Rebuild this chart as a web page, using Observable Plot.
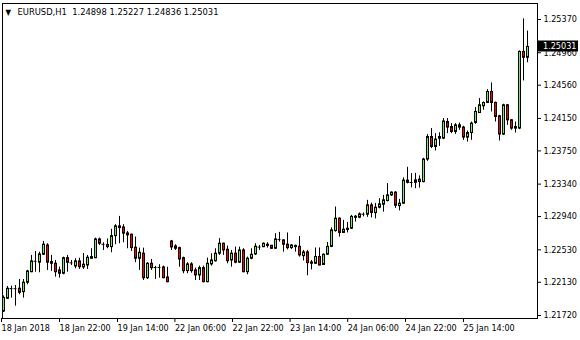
<!DOCTYPE html>
<html><head><meta charset="utf-8">
<script src="https://cdn.jsdelivr.net/npm/d3@7"></script>
<script src="https://cdn.jsdelivr.net/npm/@observablehq/plot@0.6"></script>
<style>
body{margin:0;background:#fff}
#chart svg{display:block;font-family:"DejaVu Sans Condensed","DejaVu Sans",sans-serif;font-stretch:condensed}
</style></head><body><div id="chart"></div>
<script>
const header = "EURUSD,H1  1.24898 1.25227 1.24836 1.25031";
const opens = [1.21769,1.21926,1.22050,1.22052,1.22050,1.22008,1.22124,1.22254,1.22387,1.22371,
1.22469,1.22584,1.22378,1.22358,1.22276,1.22235,1.22427,1.22371,1.22325,1.22387,
1.22313,1.22337,1.22420,1.22427,1.22658,1.22596,1.22590,1.22563,1.22699,1.22819,
1.22806,1.22732,1.22716,1.22556,1.22420,1.22482,1.22180,1.22358,1.22313,1.22311,
1.22313,1.22189,1.22633,1.22572,1.22551,1.22427,1.22267,1.22350,1.22276,1.22214,
1.22304,1.22131,1.22350,1.22390,1.22482,1.22605,1.22531,1.22399,1.22482,1.22371,
1.22522,1.22254,1.22420,1.22473,1.22565,1.22563,1.22578,1.22580,1.22543,1.22654,
1.22646,1.22593,1.22551,1.22578,1.22568,1.22452,1.22498,1.22374,1.22358,1.22442,
1.22343,1.22469,1.22566,1.22761,1.22914,1.22738,1.22775,1.22790,1.22924,1.22926,
1.22967,1.22963,1.23078,1.22983,1.23049,1.23086,1.23131,1.23201,1.23235,1.23069,
1.23099,1.23383,1.23362,1.23356,1.23395,1.23365,1.23643,1.23921,1.23798,1.23899,
1.23901,1.24106,1.24044,1.23983,1.24065,1.24037,1.23914,1.23970,1.24094,1.24217,
1.24300,1.24341,1.24476,1.24341,1.24177,1.23951,1.24312,1.24127,1.24044,1.24025,
1.24970,1.24898];
const highs = [1.21961,1.22078,1.22082,1.22090,1.22164,1.22164,1.22276,1.22461,1.22510,1.22501,
1.22633,1.22605,1.22461,1.22399,1.22316,1.22440,1.22461,1.22399,1.22420,1.22427,
1.22485,1.22461,1.22543,1.22674,1.22674,1.22617,1.22664,1.22782,1.22840,1.22942,
1.22840,1.22757,1.22724,1.22687,1.22551,1.22551,1.22371,1.22411,1.22325,1.22346,
1.22329,1.22316,1.22646,1.22593,1.22563,1.22440,1.22371,1.22371,1.22304,1.22329,
1.22329,1.22427,1.22482,1.22543,1.22667,1.22613,1.22575,1.22522,1.22563,1.22563,
1.22543,1.22440,1.22543,1.22605,1.22584,1.22613,1.22617,1.22584,1.22729,1.22745,
1.22654,1.22738,1.22593,1.22588,1.22695,1.22522,1.22522,1.22399,1.22553,1.22553,
1.22479,1.22621,1.22800,1.23057,1.22924,1.22893,1.22868,1.22954,1.22954,1.22985,
1.22985,1.23140,1.23106,1.23102,1.23160,1.23201,1.23346,1.23245,1.23247,1.23152,
1.23417,1.23547,1.23469,1.23473,1.23442,1.23658,1.23951,1.24025,1.23963,1.23973,
1.24148,1.24148,1.24086,1.24086,1.24094,1.24053,1.23995,1.24106,1.24284,1.24395,
1.24353,1.24506,1.24588,1.24353,1.24189,1.24325,1.24321,1.24136,1.24106,1.24983,
1.25378,1.25227];
const lows = [1.21757,1.21918,1.21934,1.21835,1.21976,1.21934,1.22099,1.22247,1.22254,1.22247,
1.22461,1.22276,1.22263,1.22193,1.22180,1.22222,1.22254,1.22337,1.22296,1.22288,
1.22288,1.22288,1.22411,1.22420,1.22584,1.22522,1.22543,1.22494,1.22593,1.22605,
1.22617,1.22543,1.22510,1.22371,1.22276,1.22152,1.22164,1.22276,1.22164,1.22180,
1.22173,1.22124,1.22522,1.22522,1.22316,1.22235,1.22235,1.22242,1.22152,1.22152,
1.22124,1.22124,1.22329,1.22378,1.22461,1.22461,1.22358,1.22316,1.22358,1.22366,
1.22247,1.22222,1.22408,1.22461,1.22522,1.22556,1.22551,1.22535,1.22535,1.22625,
1.22501,1.22529,1.22535,1.22501,1.22440,1.22393,1.22210,1.22282,1.22350,1.22331,
1.22337,1.22467,1.22556,1.22748,1.22687,1.22732,1.22738,1.22782,1.22872,1.22914,
1.22936,1.22930,1.22924,1.22911,1.23035,1.22995,1.23121,1.23189,1.23041,1.23010,
1.23090,1.23343,1.23294,1.23284,1.23291,1.23356,1.23621,1.23778,1.23748,1.23806,
1.23889,1.23963,1.23963,1.23954,1.24004,1.23880,1.23859,1.23880,1.24078,1.24210,
1.24251,1.24333,1.24230,1.24106,1.23872,1.23942,1.24065,1.24004,1.23970,1.24012,
1.24612,1.24836];
const closes = [1.21936,1.22050,1.22052,1.22050,1.22000,1.22124,1.22263,1.22387,1.22389,1.22473,
1.22593,1.22371,1.22358,1.22254,1.22235,1.22427,1.22371,1.22369,1.22387,1.22316,
1.22346,1.22432,1.22440,1.22658,1.22605,1.22598,1.22563,1.22699,1.22819,1.22798,
1.22729,1.22708,1.22551,1.22420,1.22494,1.22180,1.22358,1.22304,1.22311,1.22313,
1.22180,1.22131,1.22559,1.22543,1.22411,1.22267,1.22350,1.22267,1.22214,1.22304,
1.22131,1.22358,1.22399,1.22482,1.22605,1.22522,1.22390,1.22482,1.22371,1.22522,
1.22254,1.22420,1.22469,1.22568,1.22563,1.22605,1.22593,1.22543,1.22658,1.22656,
1.22593,1.22551,1.22584,1.22563,1.22461,1.22498,1.22366,1.22358,1.22442,1.22337,
1.22469,1.22566,1.22769,1.22914,1.22738,1.22778,1.22790,1.22936,1.22938,1.22967,
1.22969,1.23078,1.22985,1.23049,1.23090,1.23140,1.23201,1.23235,1.23074,1.23099,
1.23383,1.23356,1.23360,1.23386,1.23365,1.23643,1.23921,1.23798,1.23889,1.23921,
1.24112,1.24037,1.23983,1.24065,1.24037,1.23914,1.23970,1.24086,1.24230,1.24312,
1.24341,1.24476,1.24341,1.24168,1.23951,1.24312,1.24127,1.24025,1.24025,1.24970,
1.24898,1.25031];
// time axis labels, placed at bar-index positions
const timeTickAt = [-0.25, 14.25, 28.75, 43.1, 57.5, 71.9, 86.3, 100.75, 115.25];
const timeTickLabels = ["18 Jan 2018","18 Jan 22:00","19 Jan 14:00","22 Jan 06:00","22 Jan 22:00","23 Jan 14:00","24 Jan 06:00","24 Jan 22:00","25 Jan 14:00"];
const priceTicks = [1.25370,1.24960,1.24560,1.24150,1.23750,1.23340,1.22940,1.22530,1.22130,1.21720];

const bullColor = "#7cfc00", bearColor = "#ff0000";
const bars = opens.map((o, i) => ({i, o, h: highs[i], l: lows[i], c: closes[i]}));
const dojis = bars.filter(d => Math.abs(d.o - d.c) < 0.00004);
const bodies = bars.filter(d => Math.abs(d.o - d.c) >= 0.00004);
const last = bars[bars.length - 1];
const W = 580, H = 340, mL = 2, mR = 43, mT = 3, mB = 22;
const font = {fontFamily: "'DejaVu Sans Condensed','DejaVu Sans',sans-serif", fontSize: "9px"};

const plot = Plot.plot({
  width: W, height: H, marginLeft: mL, marginRight: mR, marginTop: mT, marginBottom: mB,
  style: {...font, color: "black", background: "white"},
  x: {type: "linear", domain: [-0.25, bars.length + 1.5]},
  y: {type: "linear", domain: [1.216830, 1.255673]},
  marks: [
    Plot.axisY({anchor: "right", ticks: priceTicks, tickFormat: d => d.toFixed(5), tickSize: 3, tickPadding: 3, label: null}),
    Plot.axisX({anchor: "bottom", ticks: timeTickAt, tickFormat: (d, k) => timeTickLabels[k], tickSize: 4, tickPadding: 2, textAnchor: "start", dx: -1, label: null}),
    Plot.ruleX(bars, {x: "i", y1: "l", y2: "h", stroke: "black", strokeWidth: 1}),
    Plot.rect(bodies, {x1: d => d.i - 0.25, x2: d => d.i + 0.25, y1: "o", y2: "c", dx: 0.5,
      fill: d => d.c > d.o ? bullColor : bearColor, stroke: "black", strokeWidth: 1}),
    Plot.ruleY(dojis, {y: "c", x1: d => d.i - 0.375, x2: d => d.i + 0.375, stroke: "black", strokeWidth: 1}),
    Plot.frame({stroke: "black"}),
    Plot.text(["\u25BC"], {frameAnchor: "top-left", dx: 3, dy: 6, fontSize: 8, lineAnchor: "top", textAnchor: "start", fill: "black"}),
    Plot.text([header], {frameAnchor: "top-left", dx: 15, dy: 5, fontSize: 9.3, lineAnchor: "top", textAnchor: "start", fill: "black"})
  ]
});

// current price marker on the price scale
const yScale = plot.scale("y");
const yc = yScale.apply(last.c);
const svg = d3.select(plot);
const g = svg.append("g").attr("text-anchor", "start");
g.append("rect").attr("x", W - mR).attr("y", Math.round(yc) - 5.5).attr("width", 41).attr("height", 11).attr("fill", "black");
g.append("text").attr("x", W - mR + 6).attr("y", Math.round(yc)).attr("dy", "0.35em").attr("fill", "white")
  .attr("text-anchor", "start")
  .style("font-family", font.fontFamily).style("font-size", "9px").text(last.c.toFixed(5));

document.getElementById("chart").appendChild(plot);
</script>
</body></html>
